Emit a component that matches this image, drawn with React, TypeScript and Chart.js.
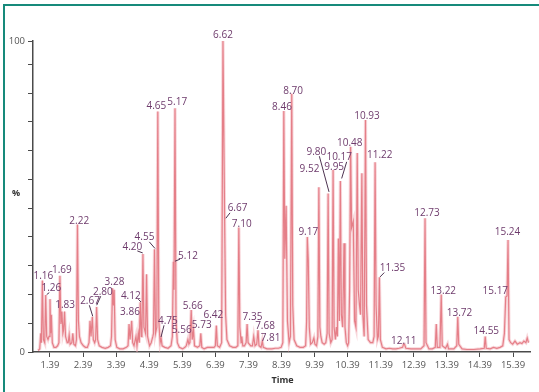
import React, { useEffect, useRef } from "react";
import { Chart, registerables } from "chart.js";

Chart.register(...registerables);

// Retention time (min) and relative intensity (%) of the chromatogram trace
const rt = [
  1.03, 1.08, 1.11, 1.13, 1.16, 1.19, 1.23, 1.26, 1.29, 1.33, 1.36, 1.39, 1.41, 1.43, 1.46, 1.51, 1.57, 1.62, 1.66, 1.69,
  1.72, 1.75, 1.78, 1.80, 1.83, 1.86, 1.91, 1.94, 1.97, 2.00, 2.05, 2.08, 2.11, 2.16, 2.19, 2.22, 2.25, 2.28, 2.33, 2.40,
  2.46, 2.52, 2.57, 2.60, 2.63, 2.67, 2.70, 2.74, 2.77, 2.80, 2.83, 2.88, 2.96, 3.06, 3.15, 3.22, 3.25, 3.28, 3.31, 3.33,
  3.36, 3.41, 3.50, 3.60, 3.70, 3.75, 3.78, 3.81, 3.83, 3.86, 3.89, 3.93, 3.96, 3.99, 4.02, 4.06, 4.09, 4.12, 4.15, 4.17,
  4.20, 4.23, 4.28, 4.31, 4.34, 4.40, 4.45, 4.50, 4.52, 4.55, 4.58, 4.62, 4.65, 4.68, 4.72, 4.75, 4.78, 4.86, 4.96, 5.05,
  5.09, 5.12, 5.14, 5.17, 5.20, 5.24, 5.30, 5.40, 5.47, 5.51, 5.56, 5.59, 5.62, 5.66, 5.69, 5.73, 5.76, 5.85, 5.92, 5.95,
  5.98, 6.05, 6.15, 6.25, 6.35, 6.39, 6.42, 6.45, 6.52, 6.58, 6.62, 6.67, 6.70, 6.74, 6.82, 6.92, 7.01, 7.07, 7.10, 7.13,
  7.17, 7.19, 7.22, 7.27, 7.32, 7.35, 7.38, 7.46, 7.51, 7.55, 7.59, 7.64, 7.68, 7.71, 7.77, 7.81, 7.84, 7.95, 8.10, 8.20,
  8.30, 8.38, 8.43, 8.46, 8.49, 8.53, 8.57, 8.62, 8.66, 8.70, 8.73, 8.77, 8.85, 8.95, 9.05, 9.12, 9.15, 9.17, 9.20, 9.23,
  9.27, 9.32, 9.37, 9.40, 9.45, 9.49, 9.52, 9.55, 9.58, 9.62, 9.68, 9.73, 9.77, 9.80, 9.83, 9.88, 9.92, 9.95, 9.98, 10.02,
  10.05, 10.08, 10.11, 10.14, 10.17, 10.20, 10.24, 10.28, 10.31, 10.35, 10.39, 10.42, 10.45, 10.48, 10.51, 10.56, 10.60, 10.64, 10.68, 10.71,
  10.75, 10.78, 10.82, 10.85, 10.89, 10.93, 10.96, 11.01, 11.08, 11.15, 11.19, 11.22, 11.25, 11.29, 11.32, 11.35, 11.38, 11.44, 11.55, 11.65,
  11.75, 11.85, 11.95, 12.05, 12.08, 12.11, 12.15, 12.30, 12.45, 12.60, 12.70, 12.73, 12.76, 12.85, 12.95, 13.04, 13.07, 13.10, 13.18, 13.22,
  13.25, 13.35, 13.41, 13.44, 13.60, 13.69, 13.72, 13.75, 13.85, 14.00, 14.20, 14.40, 14.52, 14.55, 14.58, 14.70, 14.80, 14.90, 15.00, 15.08,
  15.13, 15.17, 15.21, 15.24, 15.27, 15.32, 15.38, 15.45, 15.52, 15.60, 15.66, 15.72, 15.78, 15.82, 15.86,
];

const intensity = [
  0.5, 1, 6, 3, 23, 4, 3, 18.3, 5, 4, 5, 17, 6, 12, 3, 1.5, 1.5, 2, 3, 24.5,
  9, 13, 6, 7, 13, 5, 3, 3, 5.5, 2.5, 3, 6, 2.5, 2, 4, 41, 10, 5, 3, 2,
  1.5, 1.5, 3, 10, 5, 11.3, 4, 3, 4, 14.5, 4, 2, 1.5, 1.2, 1.5, 2, 5, 20.5, 15, 20,
  4, 1.5, 1, 1, 1.5, 2, 9, 4, 4, 10, 3, 2, 2, 5, 2, 6, 3, 16, 5, 6,
  31.5, 8, 6, 25, 5, 2, 3, 5, 6, 33, 6, 8, 77.3, 10, 3, 4.5, 2, 1.5, 1.2, 2,
  5, 29, 20, 78.4, 10, 3, 1.5, 1, 1.5, 2, 4, 2.5, 3, 13.5, 4, 7, 2, 1.5, 2, 6,
  1.5, 1, 1.5, 1.5, 1.5, 2, 8.5, 2, 1.5, 3, 100, 43, 12, 4, 2, 1.5, 1.5, 2, 40, 8,
  3, 5, 2, 2, 3, 9, 3, 2, 2, 5, 2, 2.5, 7, 2, 1.5, 3.5, 1.5, 1, 1, 1.2,
  1.2, 1.5, 3, 77.5, 30, 47, 10, 3, 5, 83, 15, 4, 2, 1.5, 1.5, 2, 10, 37, 29.5, 8,
  2.5, 3, 4.5, 2.5, 2, 5, 53, 8, 5, 3, 2.5, 3, 6, 51, 6, 3, 4, 58.5, 8, 4,
  8, 5, 36.5, 10, 55, 12, 8, 35, 8, 3, 2, 3, 20, 66, 40, 42, 10, 8, 64, 20,
  15, 12, 57.5, 12, 5, 74.6, 15, 4, 3, 3, 5, 61, 15, 4, 5, 24, 4, 1.5, 1, 1.2,
  1, 1, 1.2, 1.5, 2.5, 2.5, 1.2, 1, 1, 1, 2, 43, 3, 1, 1, 1.5, 9, 1.5, 1.5, 18.5,
  2, 1.2, 2.5, 1, 1, 2, 11.3, 2.5, 1, 0.8, 0.8, 1, 1.2, 5, 1.2, 1, 1.5, 1.2, 1.5, 2,
  6, 17.7, 18, 36, 4, 3, 2.5, 3.5, 2.5, 3, 2.7, 3.5, 3, 4.5, 3,
];

// Annotated peak retention times
const peakLabels = [
  "1.16", "1.26", "1.69", "1.83", "2.22", "2.67", "2.80", "3.28", "3.86", "4.12",
  "4.20", "4.55", "4.65", "4.75", "5.12", "5.17", "5.56", "5.66", "5.73", "6.42",
  "6.62", "6.67", "7.10", "7.35", "7.68", "7.81", "8.46", "8.70", "9.17", "9.52",
  "9.80", "9.95", "10.17", "10.48", "10.93", "11.22", "11.35", "12.11", "12.73", "13.22",
  "13.72", "14.55", "15.17", "15.24",
];

// Axis ticks
const xTickValues = [1.39, 2.39, 3.39, 4.39, 5.39, 6.39, 7.39, 8.39, 9.39, 10.39, 11.39, 12.39, 13.39, 14.39, 15.39];
const yTickValues = [0, 9.25, 18.5, 27.75, 37, 46.25, 55.5, 64.75, 74, 83.25, 92.5, 100];
const yTickLabels = ["0", "100"];

// Label placement (text offset from the peak apex in px, optional leader line)
const labelLayout: Record<string, [number, number, number[]?]> = {
  "1.16": [1, -1],
  "1.26": [5.6, -3.6, [1, -0.5, 3.6, -2.5]],
  "1.69": [2, -2.8],
  "1.83": [0.5, -3.8],
  "2.22": [1.8, -0.8],
  "2.67": [-2.3, -12.4, [-3, -11.6, 0.4, -0.6]],
  "2.80": [6.2, -11.5, [4.1, -10.7, 0.1, -1.7]],
  "3.28": [2, -2.8],
  "3.86": [-1.7, -6.1],
  "4.12": [-9.5, -3.5, [-2, -3, 0.7, -0.3]],
  "4.20": [-10.6, -3.6, [-5.6, -3.1, -0.2, -1.1]],
  "4.55": [-10, -9, [-5.2, -7.5, 0.5, -0.9]],
  "4.65": [-1.5, -3],
  "4.75": [6.7, -14.2, [2.9, -12.7, -0.1, -1]],
  "5.12": [14.6, -3.1, [1.6, -0.6, 6.6, -2.6]],
  "5.17": [2.2, -2.9],
  "5.56": [-6.2, -6.5],
  "5.66": [1.5, -1.3],
  "5.73": [8.2, -2.5],
  "6.42": [-3, -7.8],
  "6.62": [0, -3.2],
  "6.67": [12.9, -6.9, [5.4, -5.4, 1.2, 0]],
  "7.10": [2.9, -0.5],
  "7.35": [5.4, -4.2],
  "7.68": [7, -1.5],
  "7.81": [8.2, 0],
  "8.46": [-1.8, -1.4],
  "8.70": [1.3, -0.3],
  "9.17": [1, -1.5],
  "9.52": [-9.4, -15.2],
  "9.80": [-11.8, -38, [-8.8, -37.2, 0.9, -1.5]],
  "9.95": [1.1, -0.4],
  "10.17": [-1.2, -20.6, [6.3, -19.1, 1.3, -2.5]],
  "10.48": [-0.9, -0.4],
  "10.93": [1.5, -1.4],
  "11.22": [4.7, -4.4],
  "11.35": [13.1, -6.3, [4.9, -4.8, 0.6, -0.4]],
  "12.11": [-0.8, -0.5],
  "12.73": [2, -1.9],
  "13.22": [2.1, 0],
  "13.72": [1.7, -1.1],
  "14.55": [1.1, -2],
  "15.17": [-10.4, -2.5],
  "15.24": [-0.5, -4.6],
};

const FONT = '"Open Sans", "DejaVu Sans", sans-serif';
const LABEL_COLOR = "#6e3b6c";
const AXIS_COLOR = "#4a4a4a";

const annotationPlugin = {
  id: "peakAnnotations",
  afterDatasetsDraw(chart: any) {
    const { ctx, chartArea } = chart;
    const xs = chart.scales.x;
    const ys = chart.scales.y;
    ctx.save();
    ctx.font = `10px ${FONT}`;
    ctx.fillStyle = LABEL_COLOR;
    ctx.strokeStyle = "#4d3350";
    ctx.lineWidth = 1;
    ctx.textAlign = "center";
    ctx.textBaseline = "alphabetic";
    peakLabels.forEach((lab) => {
      const t = parseFloat(lab);
      const idx = rt.indexOf(t);
      if (idx < 0) return;
      const ax = xs.getPixelForValue(t);
      const ay = ys.getPixelForValue(intensity[idx]);
      const lay = labelLayout[lab] || [0, -2];
      ctx.fillText(lab, ax + lay[0], ay + lay[1]);
      const leader = lay[2];
      if (leader) {
        ctx.beginPath();
        ctx.moveTo(ax + leader[0], ay + leader[1]);
        ctx.lineTo(ax + leader[2], ay + leader[3]);
        ctx.stroke();
      }
    });
    // axis titles
    ctx.fillStyle = "#333";
    ctx.font = `bold 9px ${FONT}`;
    ctx.textBaseline = "middle";
    ctx.fillText("%", chartArea.left - 17, (chartArea.top + chartArea.bottom) / 2 - 3);
    ctx.fillText("Time", (chartArea.left + chartArea.right) / 2 + 1, chartArea.bottom + 28);
    ctx.restore();
  },
};

export default function App() {
  const canvasRef = useRef<HTMLCanvasElement | null>(null);

  useEffect(() => {
    if (!canvasRef.current) return;
    const points = rt.map((t, i) => ({ x: t, y: intensity[i] }));
    const chart = new Chart(canvasRef.current, {
      type: "line",
      data: {
        datasets: [
          {
            data: points,
            borderColor: "rgba(226,112,122,0.85)",
            borderWidth: 1.2,
            pointRadius: 0,
            tension: 0,
            fill: false,
            order: 0,
          },
          {
            data: points,
            borderColor: "rgba(240,165,172,0.45)",
            borderWidth: 3.2,
            pointRadius: 0,
            tension: 0,
            fill: false,
            order: 1,
          },
        ],
      },
      options: {
        animation: false,
        responsive: false,
        devicePixelRatio: 1,
        layout: { padding: { left: 0, top: 41, right: 9, bottom: 0 } },
        plugins: { legend: { display: false }, tooltip: { enabled: false } },
        scales: {
          x: {
            type: "linear",
            min: 0.876,
            max: 15.904,
            afterBuildTicks: (s: any) => {
              s.ticks = xTickValues.map((v) => ({ value: v }));
            },
            afterFit: (s: any) => {
              s.height = 40;
            },
            ticks: {
              autoSkip: false,
              maxRotation: 0,
              padding: 3,
              color: "#555",
              font: { family: FONT, size: 9.5 },
              callback: (v: any) => Number(v).toFixed(2),
            },
            grid: { drawOnChartArea: false, drawTicks: true, tickLength: 5, color: AXIS_COLOR, lineWidth: 1 },
            border: { display: true, color: AXIS_COLOR, width: 1.5 },
          },
          y: {
            min: 0,
            max: 100,
            afterBuildTicks: (s: any) => {
              s.ticks = yTickValues.map((v) => ({ value: v }));
            },
            afterFit: (s: any) => {
              s.width = 33;
            },
            ticks: {
              autoSkip: false,
              padding: 3,
              color: "#555",
              font: { family: FONT, size: 9.5 },
              callback: (v: any) => (yTickLabels.includes(String(v)) ? String(v) : ""),
            },
            grid: { drawOnChartArea: false, drawTicks: true, tickLength: 5, color: AXIS_COLOR, lineWidth: 1 },
            border: { display: true, color: AXIS_COLOR, width: 1.5 },
          },
        },
      },
      plugins: [annotationPlugin],
    });
    return () => chart.destroy();
  }, []);

  return (
    <div style={{ position: "absolute", left: 0, top: 0, width: 539, height: 392, background: "#fff", overflow: "hidden" }}>
      <div
        style={{
          position: "absolute",
          left: 3,
          top: 4,
          width: 540,
          height: 392,
          borderLeft: "2px solid #168a7b",
          borderTop: "2px solid #168a7b",
          boxSizing: "border-box",
        }}
      />
      <canvas ref={canvasRef} width={539} height={392} style={{ position: "absolute", left: 0, top: 0, display: "block" }} />
    </div>
  );
}
